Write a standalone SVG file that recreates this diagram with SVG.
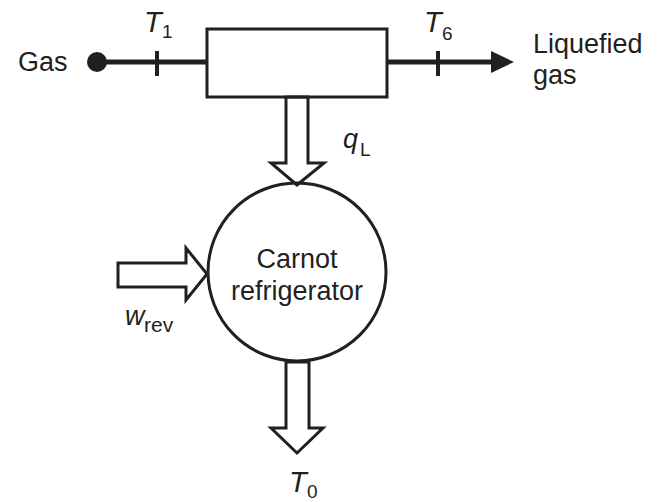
<svg xmlns="http://www.w3.org/2000/svg" width="660" height="502" viewBox="0 0 660 502">
<style>
.ln{stroke:#231f20;fill:none;stroke-width:3}
.hollow{stroke:#231f20;fill:#fff;stroke-width:3;stroke-linejoin:miter}
.pipe{stroke:#231f20;stroke-width:5;fill:none}
.tick{stroke:#231f20;stroke-width:4}
text{font-family:"Liberation Sans",Arial,sans-serif;fill:#231f20;font-size:27px}
.it{font-style:italic;font-size:29px}
.sub{font-size:19px}
</style>
<rect width="660" height="502" fill="#fff"/>
<g id="connectors">
<circle cx="97" cy="62" r="10" fill="#231f20"/>
<line class="pipe" x1="97" y1="62" x2="207" y2="62"/>
<line class="tick" x1="157" y1="51" x2="157" y2="76"/>
<line class="pipe" x1="387" y1="62" x2="494" y2="62"/>
<polygon points="491,51 514,62 491,73" fill="#231f20"/>
<line class="tick" x1="438" y1="51" x2="438" y2="76"/>
<polygon class="hollow" points="286,97 286,163 271,163 297,185 324,163 308,163 308,97"/>
<polygon class="hollow" points="118,263 186,263 186,248 207,274 186,300 186,287 118,287"/>
<polygon class="hollow" points="286,362 286,428 271,428 297,453 323,428 309,428 309,362"/>
</g>
<g id="exchanger">
<rect class="ln" x="207" y="29" width="180" height="68"/>
</g>
<g id="refrigerator">
<circle class="ln" cx="297" cy="272" r="89"/>
<text x="297" y="268" text-anchor="middle">Carnot</text>
<text x="297" y="300" text-anchor="middle">refrigerator</text>
</g>
<g id="labels">
<text x="18" y="71">Gas</text>
<text x="533" y="53">Liquefied</text>
<text x="533" y="84">gas</text>
<text x="144" y="32" class="it">T</text><text x="162" y="38" class="sub">1</text>
<text x="424" y="32" class="it">T</text><text x="442" y="40" class="sub">6</text>
<text x="343" y="148" class="it" style="font-size:27px">q</text><text x="360" y="156" class="sub">L</text>
<text x="125" y="325" class="it" style="font-size:27px">w</text><text x="144" y="332" class="sub" style="font-size:21px">rev</text>
<text x="289" y="492" class="it">T</text><text x="307" y="498" class="sub">0</text>
</g>
</svg>
